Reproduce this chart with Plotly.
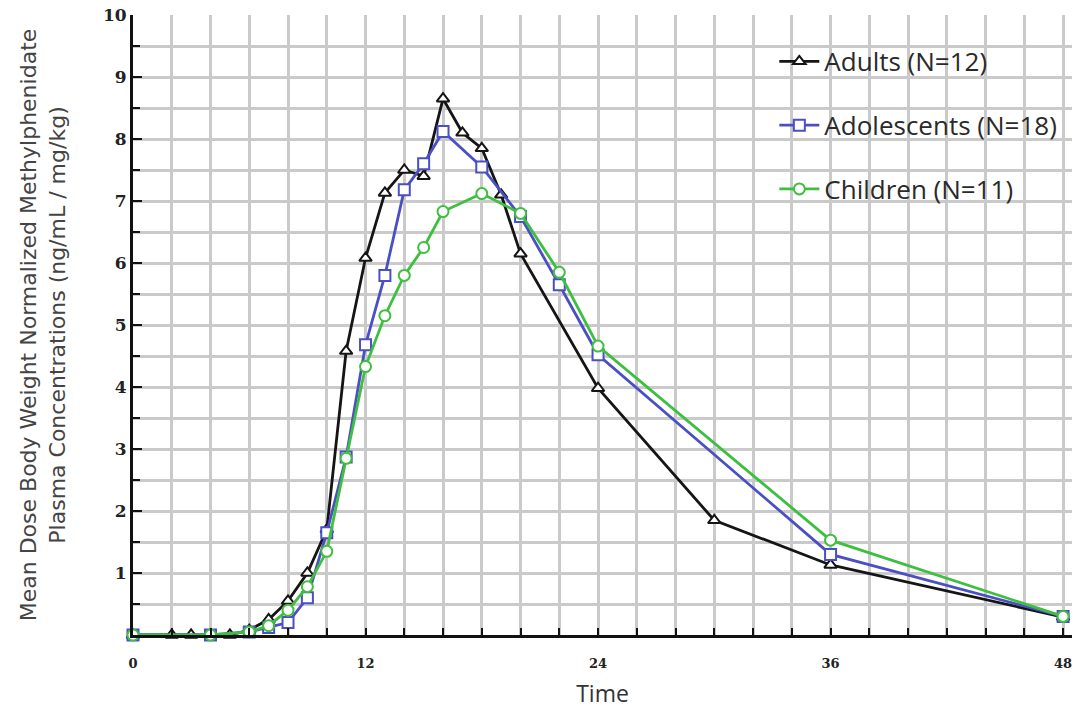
import plotly.graph_objects as go

# Sampling times (hours) and dose/body-weight normalized concentrations
adult_time = [0, 2, 3, 4, 5, 6, 7, 8, 9, 10, 11, 12, 13, 14, 15, 16, 17, 18, 19, 20, 24, 30, 36, 48]
adult_conc = [0, 0, 0, 0, 0, 0.08, 0.25, 0.55, 1.0, 1.7, 4.58, 6.08, 7.13, 7.5, 7.4, 8.65, 8.1, 7.85, 7.1, 6.15, 3.98, 1.85, 1.13, 0.29]

adol_time = [0, 4, 6, 7, 8, 9, 10, 11, 12, 13, 14, 15, 16, 18, 20, 22, 24, 36, 48]
adol_conc = [0, 0, 0.05, 0.12, 0.2, 0.6, 1.65, 2.87, 4.68, 5.8, 7.18, 7.6, 8.12, 7.55, 6.75, 5.65, 4.52, 1.3, 0.3]

child_time = [0, 4, 6, 7, 8, 9, 10, 11, 12, 13, 14, 15, 16, 18, 20, 22, 24, 36, 48]
child_conc = [0, 0, 0.05, 0.15, 0.4, 0.78, 1.35, 2.85, 4.33, 5.15, 5.8, 6.25, 6.83, 7.12, 6.8, 5.85, 4.66, 1.53, 0.3]

series = [
    ("Adults (N=12)", adult_time, adult_conc, "#151515", "triangle-up"),
    ("Adolescents (N=18)", adol_time, adol_conc, "#4a50c4", "square"),
    ("Children (N=11)", child_time, child_conc, "#3fbf3f", "circle"),
]

x_ticks = [0, 12, 24, 36, 48]
y_ticks = [1, 2, 3, 4, 5, 6, 7, 8, 9, 10]

fig = go.Figure()
for i, (name, t, c, color, symbol) in enumerate(series):
    fig.add_trace(go.Scatter(
        x=t, y=c, name=name, mode="lines+markers",
        legendgroup=f"g{i}",
        line=dict(color=color, width=2.8),
        marker=dict(symbol=symbol, size=11, color="white",
                    line=dict(color=color, width=2)),
        cliponaxis=False,
    ))

grid_color = "#cacaca"
fig.update_layout(
    width=1075, height=709,
    margin=dict(l=133, r=3, t=15, b=74),
    paper_bgcolor="white", plot_bgcolor="white",
    font=dict(family="Open Sans, sans-serif", color="#333"),
    legend=dict(
        x=0.683, y=0.963, xanchor="left", yanchor="top",
        bgcolor="rgba(0,0,0,0)", tracegroupgap=27,
        font=dict(size=26, color="#2a2a2a"),
        itemwidth=40,
    ),
    xaxis=dict(
        range=[0, 48.46], automargin=False,
        tickvals=x_ticks, ticktext=[str(v) for v in x_ticks],
        ticks="inside", ticklen=7, tickwidth=2, tickcolor="#111",
        ticklabelstandoff=14,
        tickfont=dict(family="DejaVu Serif, serif", size=13, color="#222", weight="bold"),
        showgrid=True, gridcolor=grid_color, gridwidth=2.5,
        minor=dict(dtick=2, tick0=0, ticks="inside", ticklen=7, tickwidth=2,
                   tickcolor="#111", showgrid=True, gridcolor=grid_color, gridwidth=2.5),
        showline=True, linecolor="#111", linewidth=3,
        zeroline=False,
        title=dict(text="Time", font=dict(size=23, color="#333"), standoff=22),
    ),
    yaxis=dict(
        range=[0, 10], automargin=False,
        tickvals=y_ticks, ticktext=[str(v) for v in y_ticks],
        ticks="inside", ticklen=9, tickwidth=2, tickcolor="#111",
        tickfont=dict(family="DejaVu Serif, serif", size=17, color="#222", weight="bold"),
        showgrid=True, gridcolor=grid_color, gridwidth=2.5,
        minor=dict(dtick=0.5, tick0=0, ticks="inside", ticklen=7, tickwidth=2,
                   tickcolor="#111", showgrid=True, gridcolor=grid_color, gridwidth=2.5),
        showline=True, linecolor="#111", linewidth=3,
        zeroline=False,
        title=dict(
            text="Mean Dose Body Weight Normalized Methylphenidate<br>Plasma Concentrations (ng/mL / mg/kg)",
            font=dict(family="DejaVu Sans, sans-serif", size=22, color="#444"), standoff=32,
        ),
    ),
)

fig.write_html("out.html")
